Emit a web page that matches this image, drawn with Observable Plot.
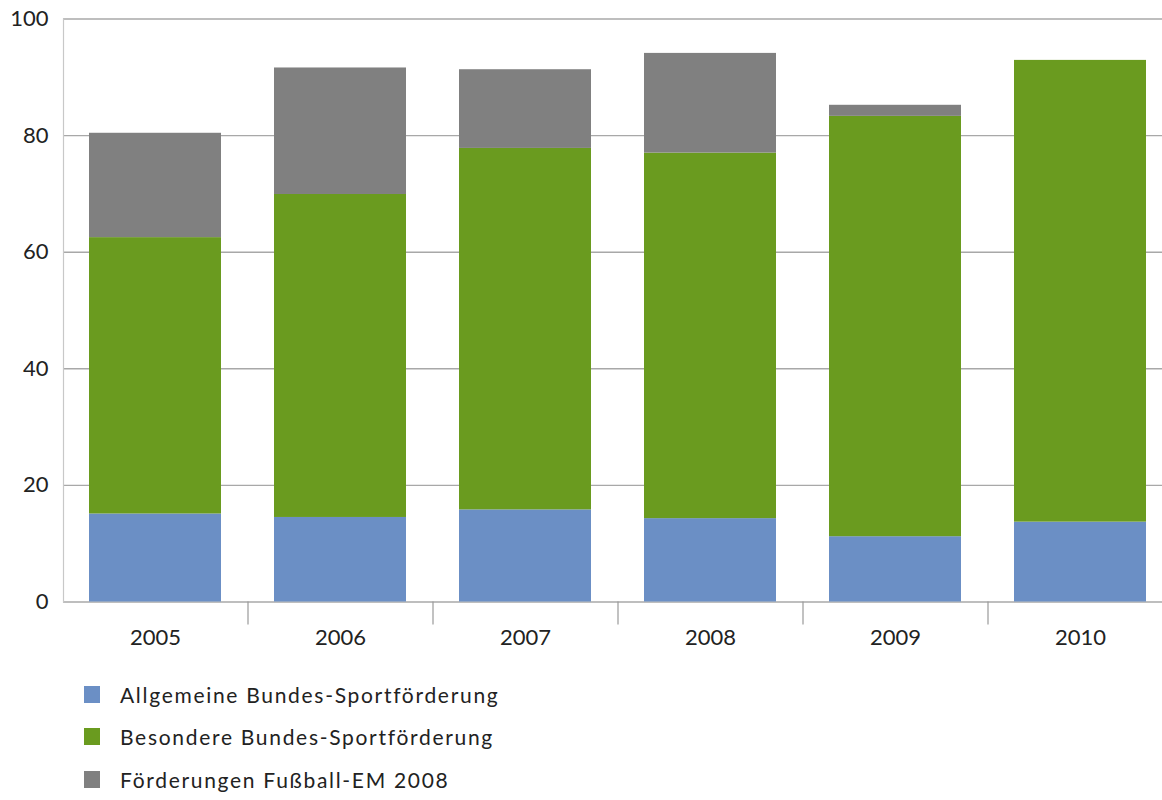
<!DOCTYPE html>
<html>
<head>
<meta charset="utf-8">
<script src="https://cdn.jsdelivr.net/npm/d3@7"></script>
<script src="https://cdn.jsdelivr.net/npm/@observablehq/plot@0.6"></script>
<style>
  html, body { margin: 0; padding: 0; background: #fff; overflow: hidden; }
  #chart svg { overflow: hidden; display: block; }
  .legend { font-family: Lato, "Open Sans", sans-serif; font-size: 21px; color: #222; letter-spacing: 1.7px; margin-top: 23px; }
  .legend .item { display: flex; align-items: center; height: 42.5px; padding-left: 84px; }
  .legend .sw { width: 16px; height: 17px; margin-right: 20px; }
</style>
</head>
<body>
<div id="chart"></div>
<div class="legend" id="legend"></div>
<script>
const years = ["2005", "2006", "2007", "2008", "2009", "2010"];
const seriesNames = ["Allgemeine Bundes-Sportförderung", "Besondere Bundes-Sportförderung", "Förderungen Fußball-EM 2008"];
const allgemeine = [15.1, 14.5, 15.8, 14.3, 11.2, 13.7];
const besondere = [47.4, 55.4, 62.0, 62.7, 72.1, 79.2];
const fussballEM = [17.9, 21.7, 13.5, 17.1, 1.9, 0];
const yTicks = [0, 20, 40, 60, 80, 100];
const colors = ["#6b8fc5", "#6a9b1f", "#808080"];

const seriesValues = [allgemeine, besondere, fussballEM];
const data = [];
seriesNames.forEach((s, si) => years.forEach((y, i) => data.push({year: y, series: s, value: seriesValues[si][i]})));

const xRange = [63, 1173];
const step = (xRange[1] - xRange[0]) / years.length;

const chart = Plot.plot({
  width: 1162,
  height: 650,
  marginTop: 18.5,
  marginBottom: 48.5,
  marginLeft: 63,
  marginRight: 0,
  style: {fontFamily: "Lato, 'Open Sans', sans-serif", fontSize: "22px", color: "#222", background: "#fff", overflow: "hidden"},
  x: {domain: years, range: xRange, paddingInner: 0.286, paddingOuter: 0.143, label: null},
  y: {domain: [0, 100], label: null},
  color: {domain: seriesNames, range: colors},
  marks: [
    Plot.ruleY(yTicks, {stroke: "#a8a8a8", strokeWidth: 1.4}),
    Plot.frame({anchor: "left", stroke: "#c8c8c8", strokeWidth: 1.2}),
    Plot.barY(data, Plot.stackY({order: seriesNames, x: "year", y: "value", fill: "series"})),
    Plot.ruleX(years.slice(1), {x: d => d, dx: -step / 2, y1: 0, y2: 0, stroke: "#999", strokeWidth: 1.2, insetBottom: -23}),
    Plot.axisY({ticks: yTicks, tickSize: 0, tickPadding: 15, label: null, fontSize: 22}),
    Plot.axisX({tickSize: 0, tickPadding: 27, label: null, fontSize: 22})
  ]
});
document.getElementById("chart").appendChild(chart);

const legend = document.getElementById("legend");
seriesNames.forEach((s, i) => {
  const item = document.createElement("div");
  item.className = "item";
  const sw = document.createElement("span");
  sw.className = "sw";
  sw.style.background = colors[i];
  const t = document.createElement("span");
  t.textContent = s;
  item.appendChild(sw);
  item.appendChild(t);
  legend.appendChild(item);
});
</script>
</body>
</html>
